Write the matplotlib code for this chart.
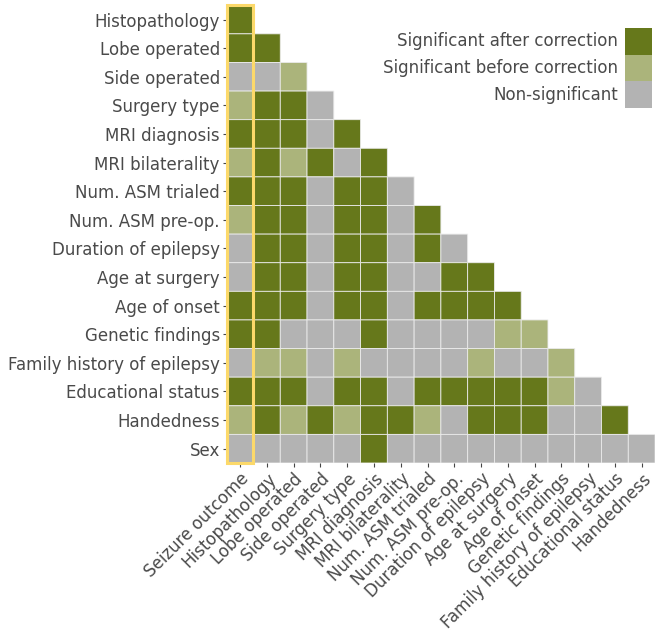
import numpy as np
import matplotlib
matplotlib.use("Agg")
import matplotlib.pyplot as plt
from matplotlib.colors import ListedColormap, BoundaryNorm
from matplotlib.patches import Rectangle

row_labels = ["Histopathology", "Lobe operated", "Side operated", "Surgery type",
              "MRI diagnosis", "MRI bilaterality", "Num. ASM trialed", "Num. ASM pre-op.",
              "Duration of epilepsy", "Age at surgery", "Age of onset", "Genetic findings",
              "Family history of epilepsy", "Educational status", "Handedness", "Sex"]
col_labels = ["Seizure outcome", "Histopathology", "Lobe operated", "Side operated",
              "Surgery type", "MRI diagnosis", "MRI bilaterality", "Num. ASM trialed",
              "Num. ASM pre-op.", "Duration of epilepsy", "Age at surgery", "Age of onset",
              "Genetic findings", "Family history of epilepsy", "Educational status", "Handedness"]

# D = significant after correction, L = significant before correction, G = non-significant
rows = [
    "D",
    "DD",
    "GGL",
    "LDDG",
    "DDDGD",
    "LDLDGD",
    "DDDGDDG",
    "LDDGDDGD",
    "GDDGDDGDG",
    "GDDGDDGGDD",
    "DDDGDDGDDDD",
    "DDGGGDGGGGLL",
    "GLLGLGGGGLGGL",
    "DDDGDDGDDDDDLG",
    "LDLDLDDLGDDDGGD",
    "GGGGGDGGGGGGGGGG",
]
legend_labels = ["Significant after correction", "Significant before correction", "Non-significant"]
colors = ["#66781b", "#abb47b", "#b3b3b3"]
code = {"D": 0, "L": 1, "G": 2}

n_r, n_c = len(row_labels), len(col_labels)
M = np.full((n_r, n_c), np.nan)
for i, r in enumerate(rows):
    for j, ch in enumerate(r):
        M[i, j] = code[ch]
Mm = np.ma.masked_invalid(M)

W, H = 661, 638
fig = plt.figure(figsize=(W / 100, H / 100), dpi=100)
ax = fig.add_axes([0.343, 0.2743, 0.648, 0.7175])
cmap = ListedColormap(colors)
norm = BoundaryNorm([-0.5, 0.5, 1.5, 2.5], 3)
ax.pcolor(np.arange(n_c + 1), np.arange(n_r + 1), Mm, cmap=cmap, norm=norm,
          edgecolors="#ebebeb", linewidth=0.6)
ax.set_xlim(0, n_c)
ax.set_ylim(n_r, 0)
for s in ax.spines.values():
    s.set_visible(False)

ax.add_patch(Rectangle((0, 0), 1, n_r, fill=False, edgecolor="#fcd96a", linewidth=2.2,
                       clip_on=False, zorder=5))

txt = "#4a4a4a"
fs = 12
ax.set_xticks(np.arange(n_c) + 0.5)
ax.set_yticks(np.arange(n_r) + 0.5)
ax.set_xticklabels(col_labels, rotation=45, ha="right", rotation_mode="anchor",
                   fontsize=fs, color=txt)
ax.set_yticklabels(row_labels, fontsize=fs, color=txt)
ax.tick_params(axis="both", length=3, width=0.8, color="#444444", pad=2)

# legend: colour squares stacked on the right, labels right-aligned to their left
sq = 26.7
x0, y0 = 625, 28
for k, (lab, c) in enumerate(zip(legend_labels, colors)):
    top = y0 + k * sq
    fig.patches.append(Rectangle((x0 / W, 1 - (top + sq) / H), sq / W, sq / H,
                                 transform=fig.transFigure, facecolor=c,
                                 edgecolor="none", figure=fig))
    fig.text((x0 - 7) / W, 1 - (top + sq / 2) / H, lab, ha="right", va="center",
             fontsize=fs, color=txt)

fig.savefig("out.png", dpi=100, facecolor="white")
